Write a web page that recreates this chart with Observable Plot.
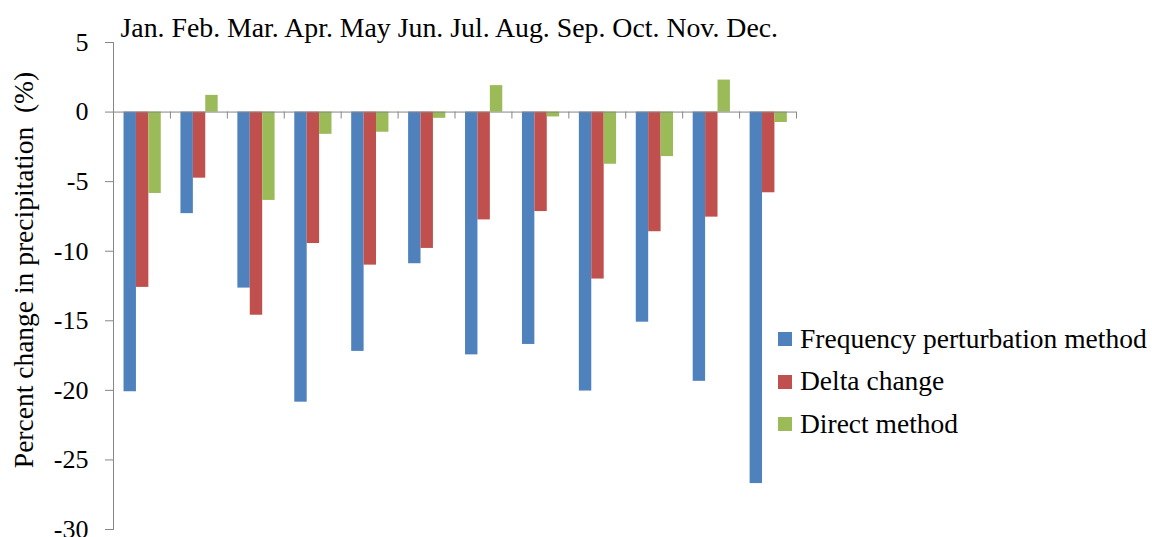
<!DOCTYPE html>
<html><head><meta charset="utf-8">
<script src="https://cdn.jsdelivr.net/npm/d3@7"></script>
<script src="https://cdn.jsdelivr.net/npm/@observablehq/plot@0.6"></script>
<style>
html,body{margin:0;padding:0;background:#fff;}
#wrap{position:relative;width:1152px;height:537px;font-family:"Liberation Serif","Times New Roman",serif;}
#wrap svg{position:absolute;left:0;top:0;}
#legend{position:absolute;left:778px;top:317.6px;}
.row{position:relative;height:42.5px;line-height:42.5px;font-size:27.5px;white-space:nowrap;color:#000;}
.sw{position:absolute;left:0;top:14.5px;width:14px;height:14px;}
.lbl{position:absolute;left:22px;top:0;}
</style></head><body><div id="wrap"></div>
<script>
const months = ["Jan.","Feb.","Mar.","Apr.","May","Jun.","Jul.","Aug.","Sep.","Oct.","Nov.","Dec."];
const series = ["Frequency perturbation method","Delta change","Direct method"];
const colors = ["#4F81BD","#C0504D","#9BBB59"];
const freq   = [-20.1, -7.3, -12.65, -20.85, -17.2, -10.9, -17.45, -16.7, -20.05, -15.1, -19.35, -26.7];
const delta  = [-12.6, -4.75, -14.6, -9.45, -11.0, -9.8, -7.75, -7.15, -12.0, -8.6, -7.55, -5.8];
const direct = [-5.85, 1.2, -6.35, -1.6, -1.45, -0.45, 1.9, -0.35, -3.75, -3.2, 2.3, -0.75];
const yTicks = [5, 0, -5, -10, -15, -20, -25, -30];
const yDomain = [-30, 5];
const yTitle = "Percent change in precipitation \u00a0(%)";

const values = [freq, delta, direct];
const data = months.flatMap((m, i) => series.map((s, j) => ({month: m, series: s, value: values[j][i]})));

const W = 1152, H = 537, mT = 42, mB = 8, mL = 113, mR = 356;
const bw = (W - mL - mR) / months.length;   // band width per month
const barW = bw * 0.218;                    // single bar width
const lead = bw * 0.185;                    // gap before first bar of group
const gray = "#868686";

const barMarks = series.map((s, j) => {
  const insetLeft = lead + j * barW;
  const insetRight = bw - insetLeft - barW;
  return Plot.barY(data.filter(d => d.series === s), {x: "month", y: "value", fill: "series", insetLeft, insetRight});
});

const chart = Plot.plot({
  width: W, height: H,
  marginTop: mT, marginBottom: mB, marginLeft: mL, marginRight: mR,
  style: {fontFamily: "'Liberation Serif', 'Times New Roman', serif", background: "white", overflow: "visible", color: "black"},
  x: {domain: months, paddingInner: 0, paddingOuter: 0, round: false, axis: null},
  y: {domain: yDomain, axis: null},
  color: {domain: series, range: colors},
  marks: [
    ...barMarks,
    Plot.ruleY([0], {stroke: gray}),
    Plot.ruleX(months, {x: d => d, y1: 0, y2: -0.5, dx: bw / 2, stroke: gray}),
    Plot.frame({anchor: "left", stroke: gray}),
    Plot.axisY({ticks: yTicks, tickFormat: d => String(d), tickSize: 8, tickPadding: 17, fontSize: 26, stroke: gray, fill: "black", label: null}),
    Plot.text([months.join(" ")], {frameAnchor: "top-left", textAnchor: "start", lineAnchor: "bottom", dx: 7, dy: -6, fontSize: 27.8, fill: "black"}),
    Plot.text([yTitle], {frameAnchor: "left", rotate: -90, textAnchor: "middle", lineAnchor: "bottom", dx: -81, dy: -16, fontSize: 27.5, fill: "black"})
  ]
});

const wrap = document.getElementById("wrap");
wrap.appendChild(chart);
const legend = document.createElement("div");
legend.id = "legend";
series.forEach((s, i) => {
  const row = document.createElement("div");
  row.className = "row";
  const sw = document.createElement("span");
  sw.className = "sw";
  sw.style.background = colors[i];
  const lbl = document.createElement("span");
  lbl.className = "lbl";
  lbl.textContent = s;
  row.appendChild(sw);
  row.appendChild(lbl);
  legend.appendChild(row);
});
wrap.appendChild(legend);
</script></body></html>
